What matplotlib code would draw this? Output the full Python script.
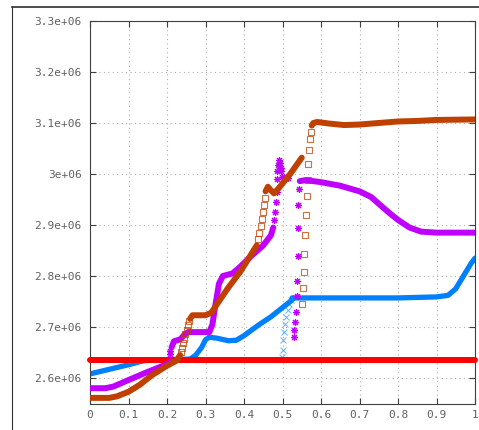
import matplotlib
matplotlib.use('Agg')
import matplotlib.pyplot as plt
from matplotlib.lines import Line2D
from matplotlib.ticker import FormatStrFormatter

# values (y in units of 1e6)
red_x = [0.0, 1.0]
red_y = [2.635, 2.635]

blue_x = [0, 0.05, 0.1, 0.14, 0.2, 0.26, 0.275, 0.29, 0.3, 0.31, 0.33, 0.36, 0.38,
          0.4, 0.44, 0.47, 0.5, 0.52, 0.53]
blue_y = [2.608, 2.617, 2.626, 2.634, 2.636, 2.637, 2.645, 2.66, 2.675, 2.68, 2.678,
          2.673, 2.674, 2.683, 2.705, 2.72, 2.738, 2.75, 2.757]
blue2_x = [0.525, 0.6, 0.7, 0.8, 0.9, 0.93, 0.95, 0.97, 0.99, 1.0]
blue2_y = [2.757, 2.757, 2.757, 2.757, 2.759, 2.762, 2.775, 2.8, 2.825, 2.835]
blue_pts_x = [0.499, 0.5, 0.501, 0.504, 0.507, 0.51, 0.514, 0.518, 0.522]
blue_pts_y = [2.641, 2.655, 2.675, 2.69, 2.705, 2.72, 2.733, 2.745, 2.752]

purple_x = [0, 0.04, 0.06, 0.1, 0.15, 0.2, 0.21]
purple_y = [2.58, 2.58, 2.583, 2.596, 2.612, 2.627, 2.633]
purple2_x = [0.212, 0.218, 0.235, 0.245, 0.255, 0.31, 0.318, 0.325, 0.335, 0.345,
             0.37, 0.39, 0.42, 0.45, 0.47, 0.476]
purple2_y = [2.66, 2.672, 2.676, 2.685, 2.69, 2.69, 2.705, 2.74, 2.785, 2.8,
             2.805, 2.818, 2.84, 2.86, 2.88, 2.895]
purple3_x = [0.545, 0.56, 0.6, 0.65, 0.7, 0.73, 0.76, 0.78, 0.8, 0.83, 0.86, 0.9, 1.0]
purple3_y = [2.986, 2.988, 2.984, 2.977, 2.966, 2.955, 2.935, 2.922, 2.91, 2.895,
             2.887, 2.885, 2.885]
purple_pts_x = [0.207, 0.209, 0.478, 0.481, 0.483, 0.485, 0.486, 0.487, 0.489, 0.491,
                0.493, 0.495, 0.497, 0.499, 0.504, 0.515,
                0.542, 0.541, 0.54, 0.539, 0.538, 0.537, 0.535, 0.533, 0.531, 0.529]
purple_pts_y = [2.648, 2.652, 2.91, 2.925, 2.945, 2.965, 2.99, 3.005, 3.018, 3.028,
                3.022, 3.012, 3.005, 2.995, 2.995, 2.992,
                2.97, 2.94, 2.894, 2.84, 2.79, 2.76, 2.73, 2.71, 2.695, 2.68]

brown_x = [0, 0.05, 0.07, 0.1, 0.13, 0.16, 0.2, 0.225, 0.234]
brown_y = [2.561, 2.561, 2.564, 2.573, 2.587, 2.605, 2.624, 2.634, 2.645]
brown2_x = [0.26, 0.266, 0.3, 0.315, 0.33, 0.36, 0.39, 0.41, 0.433]
brown2_y = [2.716, 2.723, 2.723, 2.728, 2.745, 2.778, 2.808, 2.832, 2.86]
brown3_x = [0.456, 0.462, 0.47, 0.478, 0.49, 0.52, 0.55]
brown3_y = [2.966, 2.975, 2.968, 2.962, 2.972, 3.0, 3.032]
brown4_x = [0.576, 0.58, 0.59, 0.62, 0.66, 0.7, 0.75, 0.8, 0.85, 0.9, 1.0]
brown4_y = [3.095, 3.1, 3.102, 3.099, 3.096, 3.097, 3.1, 3.103, 3.104, 3.106, 3.107]
brown_pts_x = [0.236, 0.239, 0.242, 0.245, 0.248, 0.251, 0.254, 0.257,
               0.437, 0.440, 0.443, 0.446, 0.449, 0.452, 0.454,
               0.55, 0.553, 0.556, 0.556, 0.558, 0.561, 0.564, 0.566, 0.567,
               0.569, 0.571, 0.574]
brown_pts_y = [2.65, 2.659, 2.668, 2.677, 2.686, 2.695, 2.704, 2.712,
               2.872, 2.885, 2.898, 2.912, 2.926, 2.94, 2.953,
               2.745, 2.776, 2.808, 2.843, 2.88, 2.92, 2.957, 2.988, 3.02,
               3.047, 3.069, 3.082]

x_ticks = [0, 0.1, 0.2, 0.3, 0.4, 0.5, 0.6, 0.7, 0.8, 0.9, 1]
y_ticks = [2.6e6, 2.7e6, 2.8e6, 2.9e6, 3.0e6, 3.1e6, 3.2e6, 3.3e6]


def sc(v):
    return [a * 1e6 for a in v]


RED = '#ff0000'
BLUE = '#0080ff'
PURPLE = '#c000ff'
BROWN = '#c04000'

fig = plt.figure(figsize=(4.79, 4.30), dpi=100)
ax = fig.add_axes([90 / 479, 26 / 430, 385 / 479, 383 / 430])

lw = 4.3
ax.plot(blue_x, sc(blue_y), color=BLUE, lw=3.8, solid_capstyle='round', zorder=2)
ax.plot(blue2_x, sc(blue2_y), color=BLUE, lw=3.8, solid_capstyle='round', zorder=2)
ax.plot(blue_pts_x, sc(blue_pts_y), ls='none', marker='x', ms=4, mew=0.7,
        color=BLUE, alpha=0.6, zorder=2)

ax.plot(red_x, sc(red_y), color=RED, lw=lw, solid_capstyle='round', clip_on=False, zorder=3)

ax.plot(purple_x, sc(purple_y), color=PURPLE, lw=lw, solid_capstyle='round', zorder=4)
ax.plot(purple2_x, sc(purple2_y), color=PURPLE, lw=lw, solid_capstyle='round', zorder=4)
ax.plot(purple3_x, sc(purple3_y), color=PURPLE, lw=lw, solid_capstyle='round', zorder=4)
ax.plot(purple_pts_x, sc(purple_pts_y), ls='none', marker=(8, 2, 0), ms=5, mew=0.8,
        color=PURPLE, zorder=4)

ax.plot(brown_x, sc(brown_y), color=BROWN, lw=lw, solid_capstyle='round', zorder=5)
ax.plot(brown2_x, sc(brown2_y), color=BROWN, lw=lw, solid_capstyle='round', zorder=5)
ax.plot(brown3_x, sc(brown3_y), color=BROWN, lw=lw, solid_capstyle='round', zorder=5)
ax.plot(brown4_x, sc(brown4_y), color=BROWN, lw=lw, solid_capstyle='round', zorder=5)
ax.plot(brown_pts_x, sc(brown_pts_y), ls='none', marker='s', ms=3.8, mew=0.8,
        mfc='none', mec=BROWN, alpha=0.75, zorder=5)

ax.set_xlim(0, 1)
ax.set_ylim(2.549e6, 3.3e6)
ax.set_xticks(x_ticks)
ax.set_yticks(y_ticks)
ax.xaxis.set_major_formatter(FormatStrFormatter('%g'))
ax.yaxis.set_major_formatter(FormatStrFormatter('%g'))

ax.grid(True, color='#b0b0b0', ls=(0, (1, 3)), lw=0.8)
ax.tick_params(direction='in', length=4, width=0.8, color='#404040',
               top=True, right=True, labelcolor='#606060', labelsize=8)
ax.tick_params(axis='x', pad=4)
ax.tick_params(axis='y', pad=6)
for lab in ax.get_xticklabels() + ax.get_yticklabels():
    lab.set_family('DejaVu Sans Mono')
for s in ax.spines.values():
    s.set_color('#404040')
    s.set_linewidth(0.8)

# outer frame
fig.add_artist(Line2D([12 / 479, 12 / 479], [0, 1 - 7 / 430], color='#303030', lw=0.8))
fig.add_artist(Line2D([12 / 479, 1], [1 - 7 / 430, 1 - 7 / 430], color='#303030', lw=1.2))

fig.savefig('out.png', dpi=100)
